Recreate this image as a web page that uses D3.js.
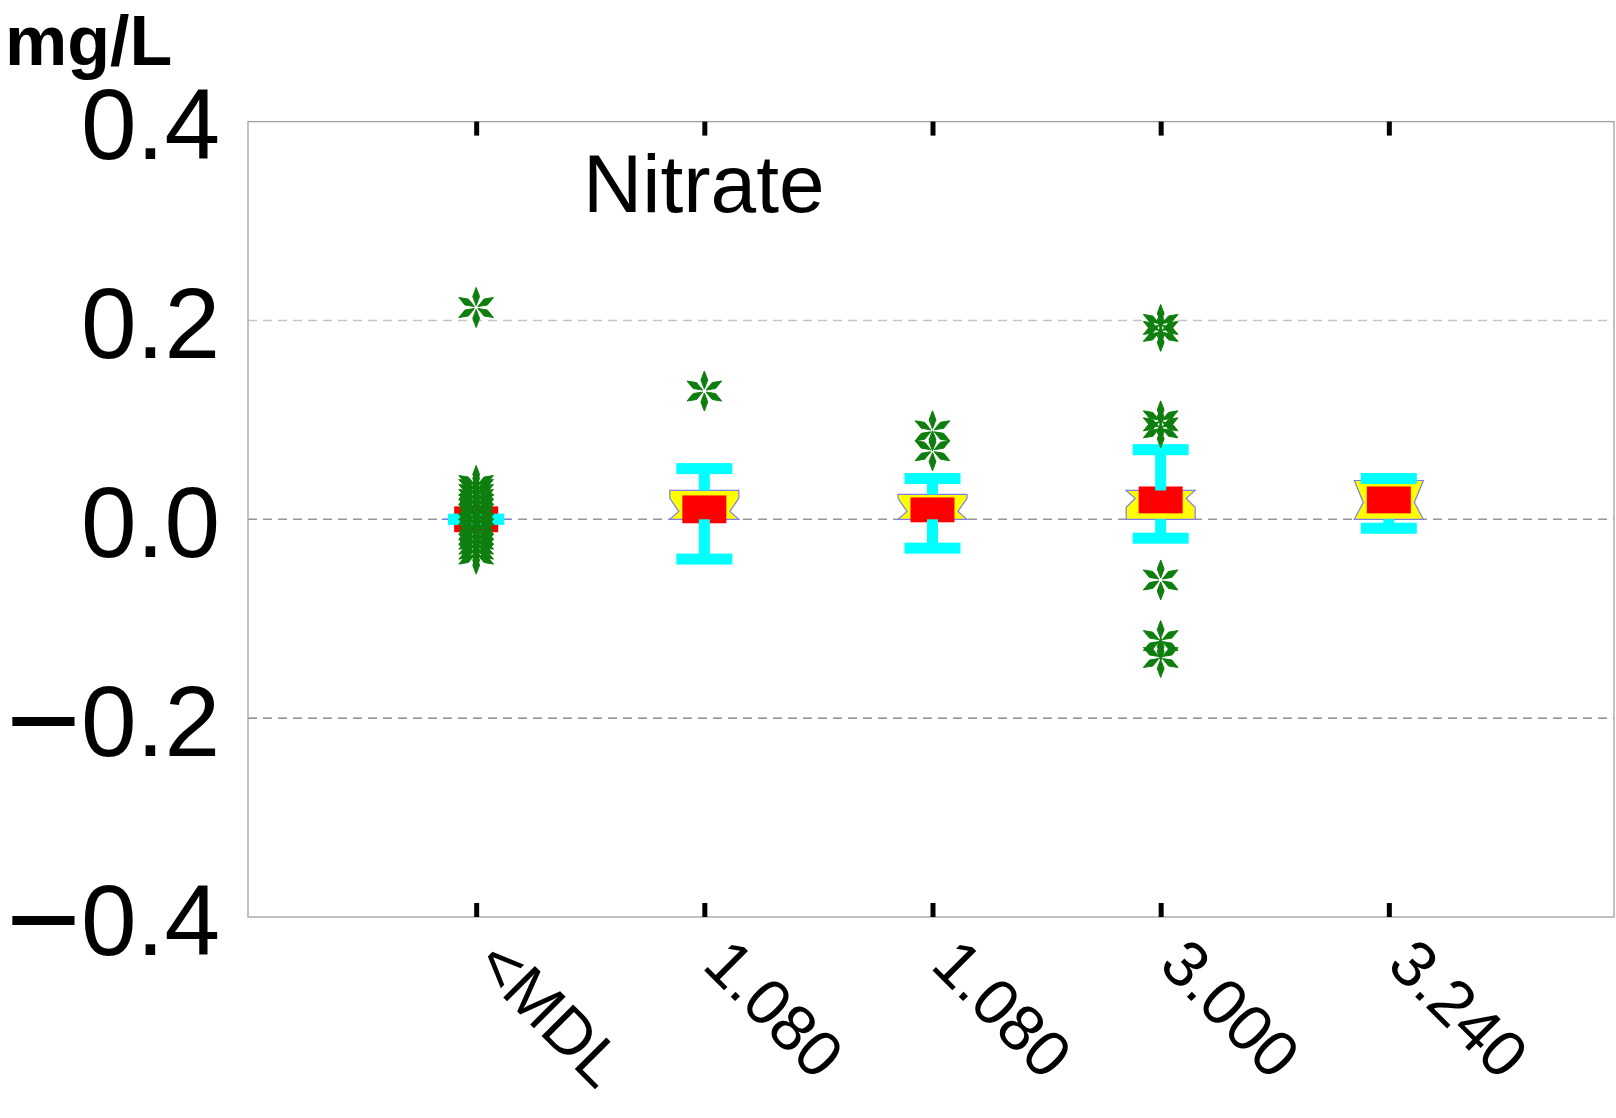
<!DOCTYPE html>
<html>
<head>
<meta charset="utf-8">
<script src="https://cdn.jsdelivr.net/npm/d3@7"></script>
<style>
  body { margin: 0; background: #fff; }
  svg { display: block; font-family: "Liberation Sans", Arial, sans-serif; }
</style>
</head>
<body>
<div id="chart"></div>
<script>
// values (mg/L)
const categories  = ["<MDL", "1.080", "1.080", "3.000", "3.240"];
const whiskerLow  = [0.000, -0.040, -0.029, -0.019, -0.009];
const boxLow      = [0.000, 0.000, 0.000, 0.000, 0.000];
const medians     = [0.000, 0.008, 0.008, 0.021, 0.017];
const boxHigh     = [0.000, 0.029, 0.025, 0.029, 0.039];
const whiskerHigh = [0.000, 0.051, 0.041, 0.070, 0.041];
const notchHalf   = [0.000, 0.013, 0.013, 0.009, 0.025];
const meanLow     = [-0.013, -0.004, -0.003, 0.006, 0.006];
const meanHigh    = [0.013, 0.024, 0.022, 0.033, 0.033];
const outliers = [
  [0.213, 0.034, 0.030, 0.025, 0.020, 0.015, 0.010, 0.005, -0.005, -0.010, -0.015, -0.020, -0.025, -0.030, -0.035],
  [0.129],
  [0.089, 0.069],
  [0.196, 0.189, 0.099, 0.092, -0.061, -0.122, -0.139],
  []
];
const yTicks = [-0.4, -0.2, 0, 0.2, 0.4];
const gridValues = [-0.2, 0, 0.2];
const gridColors = ["#767676", "#969696", "#c4c4c4"];

const width = 1616, height = 1118;
const margin = {top: 121.6, left: 248, bottom: 201};

const svg = d3.select("#chart").append("svg")
    .attr("width", width)
    .attr("height", height);

const x = d3.scalePoint()
    .domain(d3.range(categories.length))
    .range([margin.left, 1617])
    .padding(1);

const y = d3.scaleLinear()
    .domain([-0.4, 0.4])
    .range([height - margin.bottom, margin.top]);

const plotRight = 1614;

// dashed grid lines
svg.append("g").selectAll("line").data(gridValues).enter()
    .append("line")
    .attr("x1", margin.left).attr("x2", plotRight)
    .attr("y1", d => y(d)).attr("y2", d => y(d))
    .style("stroke", (d, i) => gridColors[i])
    .style("stroke-width", 1.4)
    .style("stroke-dasharray", "9,6");

// frame
svg.append("rect")
    .attr("x", margin.left).attr("y", y(0.4))
    .attr("width", plotRight - margin.left)
    .attr("height", y(-0.4) - y(0.4))
    .style("fill", "none")
    .style("stroke", "#a0a0a0")
    .style("stroke-width", 1.3);

// y axis labels
const fmt = d3.format(".1f");
const gy = svg.append("g")
    .attr("transform", "translate(" + margin.left + ",0)")
    .call(d3.axisLeft(y).tickValues(yTicks).tickSize(0).tickPadding(28));
gy.select(".domain").remove();
gy.selectAll(".tick text")
    .attr("dy", null)
    .attr("y", 37)
    .style("font-size", "100px")
    .style("fill", "#000")
    .text(null)
    .each(function(d) {
        let t = d3.select(this);
        if (d < 0) {
            t.append("tspan").style("font-size", "128px").attr("dy", 8).text("\u2212");
            t.append("tspan").attr("dy", -8).text(fmt(Math.abs(d)));
        } else {
            t.append("tspan").text(fmt(d));
        }
    });

// top ticks
const gt = svg.append("g")
    .attr("transform", "translate(0," + y(0.4) + ")")
    .call(d3.axisTop(x).tickSizeInner(-14).tickSizeOuter(0).tickFormat(""));
gt.select(".domain").remove();
gt.selectAll(".tick line").style("stroke", "#000").style("stroke-width", 5);

// bottom ticks and rotated labels
const gb = svg.append("g")
    .attr("transform", "translate(0," + y(-0.4) + ")")
    .call(d3.axisBottom(x).tickSizeInner(-14).tickSizeOuter(0).tickFormat(i => categories[i]));
gb.select(".domain").remove();
gb.selectAll(".tick line").style("stroke", "#000").style("stroke-width", 5);
gb.selectAll(".tick text")
    .attr("x", 0).attr("y", 0).attr("dy", 0)
    .attr("transform", "translate(-4,50) rotate(45)")
    .style("text-anchor", "start")
    .style("font-size", "65px")
    .style("fill", "#000");

// boxes
const boxW = 69, meanW = 44, capW = 56, stemW = 11, capH = 11, notchDepth = 9;
const idx = d3.range(categories.length);

const boxes = svg.append("g").attr("id", "boxes");

boxes.selectAll("path.notchbox").data(idx).enter()
    .append("path")
    .attr("class", "notchbox")
    .attr("d", i => {
        let cx = x(i), l = cx - boxW / 2, r = cx + boxW / 2;
        let nHi = Math.min(medians[i] + notchHalf[i], boxHigh[i]);
        let nLo = Math.max(medians[i] - notchHalf[i], boxLow[i]);
        let p = d3.path();
        p.moveTo(l, y(boxHigh[i]));
        p.lineTo(l, y(nHi));
        p.lineTo(l + notchDepth, y(medians[i]));
        p.lineTo(l, y(nLo));
        p.lineTo(l, y(boxLow[i]));
        p.lineTo(r, y(boxLow[i]));
        p.lineTo(r, y(nLo));
        p.lineTo(r - notchDepth, y(medians[i]));
        p.lineTo(r, y(nHi));
        p.lineTo(r, y(boxHigh[i]));
        p.closePath();
        return p.toString();
    })
    .style("fill", "#ffff00")
    .style("stroke", "#7c7cf0")
    .style("stroke-width", 1.2);

boxes.selectAll("rect.mean").data(idx).enter()
    .append("rect")
    .attr("class", "mean")
    .attr("x", i => x(i) - meanW / 2)
    .attr("y", i => y(meanHigh[i]))
    .attr("width", meanW)
    .attr("height", i => y(meanLow[i]) - y(meanHigh[i]))
    .style("fill", "#ff0000");

// whisker stems
boxes.selectAll("rect.stemhi").data(idx).enter()
    .append("rect")
    .attr("x", i => x(i) - stemW / 2)
    .attr("y", i => y(whiskerHigh[i]))
    .attr("width", stemW)
    .attr("height", i => Math.max(0, y(boxHigh[i]) - y(whiskerHigh[i])))
    .style("fill", "#00ffff");
boxes.selectAll("rect.stemlo").data(idx).enter()
    .append("rect")
    .attr("x", i => x(i) - stemW / 2)
    .attr("y", i => y(boxLow[i]))
    .attr("width", stemW)
    .attr("height", i => Math.max(0, y(whiskerLow[i]) - y(boxLow[i])))
    .style("fill", "#00ffff");

// whisker caps
const capValues = idx.flatMap(i => [[i, whiskerHigh[i]], [i, whiskerLow[i]]]);
boxes.selectAll("rect.cap").data(capValues).enter()
    .append("rect")
    .attr("x", d => x(d[0]) - capW / 2)
    .attr("y", d => y(d[1]) - capH / 2)
    .attr("width", capW)
    .attr("height", capH)
    .style("fill", "#00ffff");

// asterisk outliers
const asterisk = {
    draw(ctx, size) {
        const r = Math.sqrt(size);
        const pts = [[0, 0.1 * r], [0.17 * r, 0.55 * r], [0, r], [-0.17 * r, 0.55 * r]];
        for (let k = 0; k < 6; k++) {
            const a = k * Math.PI / 3, c = Math.cos(a), s = Math.sin(a);
            pts.forEach((q, j) => {
                const px = q[0] * c - q[1] * s, py = q[0] * s + q[1] * c;
                if (j) ctx.lineTo(px, py); else ctx.moveTo(px, py);
            });
            ctx.closePath();
        }
    }
};
const outPts = idx.flatMap(i => outliers[i].map(v => [i, v]));
svg.append("g").selectAll("path").data(outPts).enter()
    .append("path")
    .attr("transform", d => "translate(" + x(d[0]) + "," + y(d[1]) + ")")
    .attr("d", d3.symbol().type(asterisk).size(400))
    .style("fill", "#0e7e0e")
    .style("stroke", "#0e7e0e")
    .style("stroke-width", 1)
    .style("stroke-linejoin", "round");

// titles
svg.append("text")
    .attr("x", 583).attr("y", 212)
    .style("font-size", "82px")
    .text("Nitrate");

svg.append("text")
    .attr("x", 5).attr("y", 65)
    .style("font-size", "70px")
    .style("font-weight", "bold")
    .text("mg/L");
</script>
</body>
</html>
